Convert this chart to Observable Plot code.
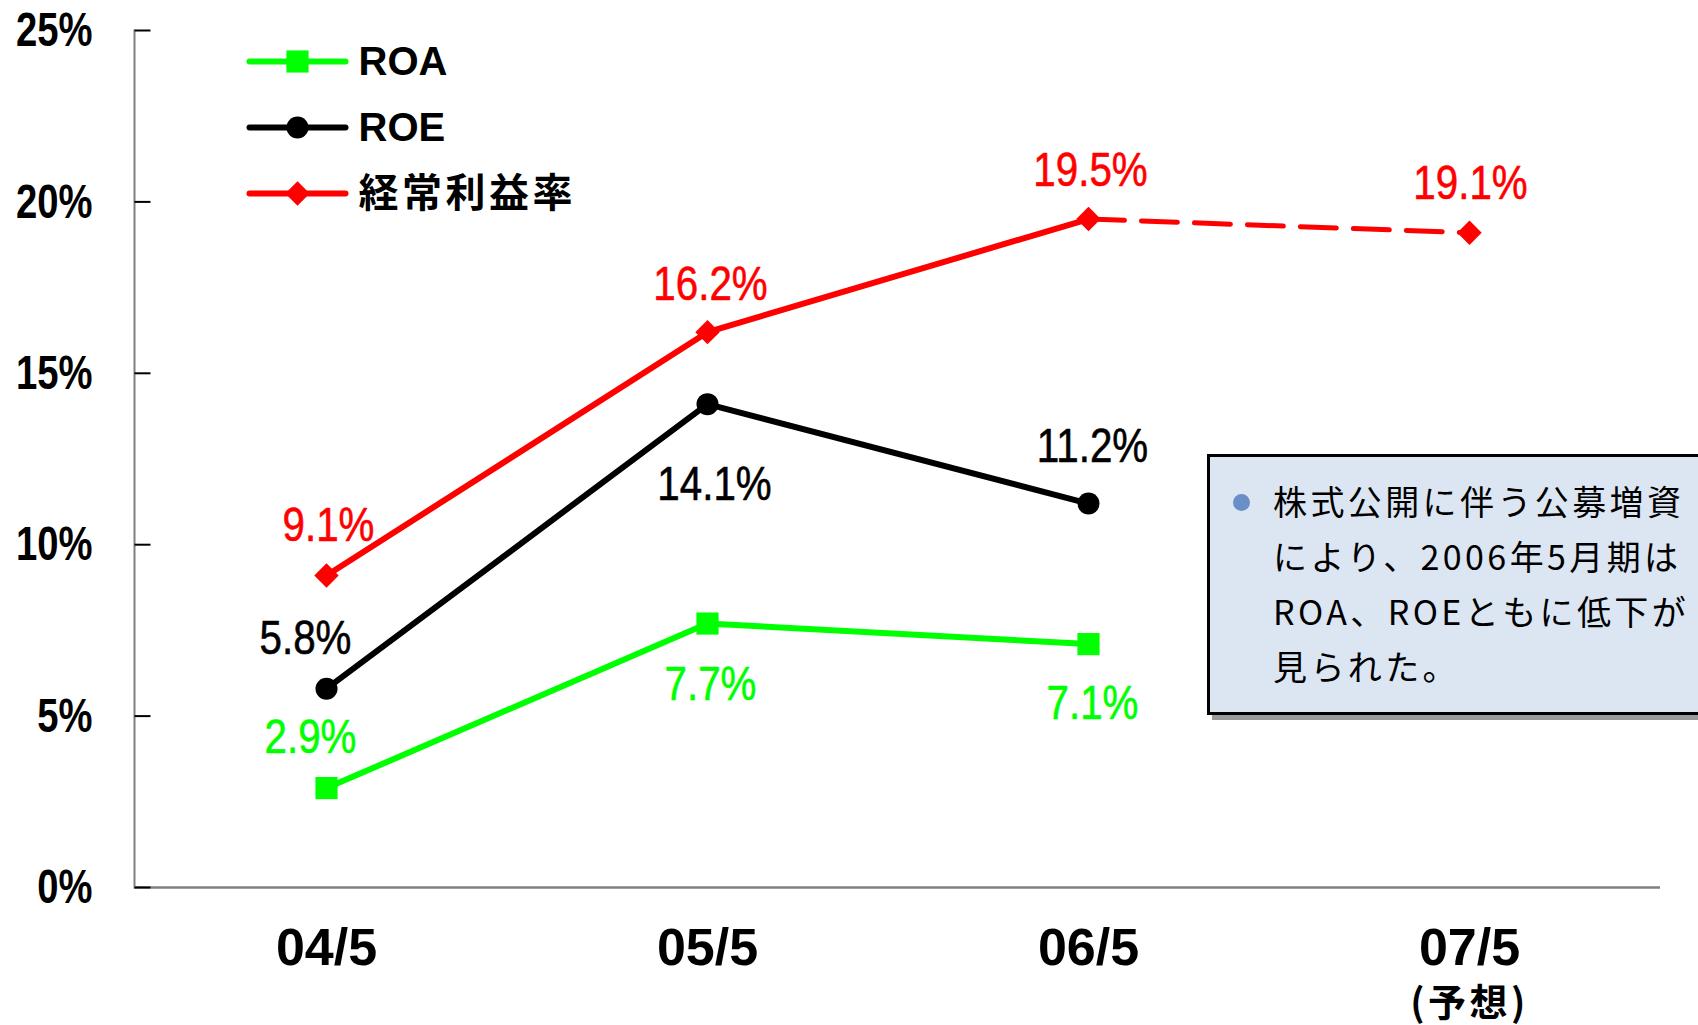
<!DOCTYPE html>
<html>
<head>
<meta charset="utf-8">
<script src="https://cdn.jsdelivr.net/npm/d3@7"></script>
<script src="https://cdn.jsdelivr.net/npm/@observablehq/plot@0.6"></script>
<style>
  html, body { margin: 0; padding: 0; background: #fff; overflow: hidden; }
  #wrap { position: relative; width: 1698px; height: 1025px; }
  #note {
    position: absolute; left: 1207px; top: 454px; width: 530px; height: 261px;
    box-sizing: border-box; border: 3px solid #000; background: #DCE6F2;
    box-shadow: 5px 5px 0 #9a9a9a;
    font-family: "Noto Sans CJK JP", sans-serif; font-size: 34px; letter-spacing: 3.4px;
    line-height: 55px; padding: 16px 0 0 63px; color: #000; white-space: nowrap;
  }
  #note .bullet {
    position: absolute; left: 23px; top: 37px; width: 17px; height: 17px;
    border-radius: 50%; background: #6A8FC7;
  }
</style>
</head>
<body>
<div id="wrap"></div>
<script>
// ---- data ----
const categories = ["04/5", "05/5", "06/5", "07/5"];
const subLabels = ["", "", "", "(予想)"];
const seriesNames = ["ROA", "ROE", "経常利益率"];
const roaValues = [2.9, 7.7, 7.1, null];
const roeValues = [5.8, 14.1, 11.2, null];
const marginValues = [9.1, 16.2, 19.5, 19.1];
const forecastCategory = "07/5";
const yTicks = [0, 5, 10, 15, 20, 25];
const noteLines = ["株式公開に伴う公募増資", "により、2006年5月期は", "ROA、ROEともに低下が", "見られた。"];

// ---- styles ----
const seriesValues = { "ROA": roaValues, "ROE": roeValues, "経常利益率": marginValues };
const styles = {
  "ROA": { color: "#00FF00", symbol: "square", r: 12.5, offsets: [[-16, -50], [3, 61], [4, 60]] },
  "ROE": { color: "#000000", symbol: "circle", r: 11, offsets: [[-21, -50], [7, 80], [4, -57]] },
  "経常利益率": { color: "#FF0000", symbol: "diamond2", r: 11, offsets: [[2, -50], [3, -48], [2, -48], [1, -49]] }
};
const sans = "'Liberation Sans', Arial, 'Noto Sans CJK JP', sans-serif";

const rows = [];
for (const s of seriesNames) {
  seriesValues[s].forEach((v, i) => {
    if (v != null) rows.push({ series: s, category: categories[i], value: v, forecast: categories[i] === forecastCategory });
  });
}

const marks = [];
marks.push(Plot.frame({ anchor: "left", stroke: "#808080", strokeWidth: 2 }));
marks.push(Plot.ruleY([0], { stroke: "#808080", strokeWidth: 2.5 }));
// inward ticks
const tickSymbol = { draw(ctx) { ctx.moveTo(0, 0); ctx.lineTo(16, 0); } };
marks.push(Plot.dot(yTicks, { y: d => d, frameAnchor: "left", symbol: tickSymbol, fill: "none", stroke: "#000", strokeWidth: 2 }));
marks.push(Plot.axisY({ ticks: yTicks, tickFormat: d => d + "%", tickSize: 0, tickPadding: 42, label: null,
  fontSize: 49, fontWeight: "bold", fontFamily: sans, fill: "#000" }));
// x labels
marks.push(Plot.text(categories, { x: d => d, frameAnchor: "bottom", dy: 61, lineAnchor: "middle",
  fontSize: 52, fontWeight: "bold", fontFamily: sans, fill: "#000" }));
marks.push(Plot.text(categories, { x: d => d, text: (d, i) => subLabels[i], frameAnchor: "bottom", dy: 116, lineAnchor: "middle",
  fontSize: 38, fontWeight: "bold", fontFamily: "'Noto Sans CJK JP', sans-serif", fill: "#000" }));

for (const s of seriesNames) {
  const st = styles[s];
  const data = rows.filter(d => d.series === s);
  marks.push(Plot.line(data.filter(d => !d.forecast), { x: "category", y: "value", stroke: st.color, strokeWidth: 6 }));
  const fc = data.filter(d => d.forecast);
  if (fc.length) {
    const prev = data[data.length - 1 - fc.length];
    marks.push(Plot.line([prev, ...fc], { x: "category", y: "value", stroke: st.color, strokeWidth: 5, strokeDasharray: "36,17" }));
  }
  marks.push(Plot.dot(data, { x: "category", y: "value", symbol: st.symbol, r: st.r, fill: st.color, stroke: "none" }));
  data.forEach((d, i) => {
    const [dx, dy] = st.offsets[i];
    marks.push(Plot.text([d], { x: "category", y: "value", text: d => d.value.toFixed(1) + "%", dx, dy,
      lineAnchor: "middle", fontSize: 48, fontFamily: sans, fill: st.color, stroke: st.color, strokeWidth: 0.6 }));
  });
}

// legend
const lineSymbol = { draw(ctx) { ctx.moveTo(-48, 0); ctx.lineTo(48, 0); } };
seriesNames.forEach((s, i) => {
  const st = styles[s];
  const dy = 31 + 66 * i;
  marks.push(Plot.dot([s], { frameAnchor: "top-left", dx: 163, dy, symbol: lineSymbol, fill: "none", stroke: st.color, strokeWidth: 6, strokeLinecap: "round" }));
  marks.push(Plot.dot([s], { frameAnchor: "top-left", dx: 163, dy, symbol: st.symbol, r: st.r, fill: st.color, stroke: "none" }));
  marks.push(Plot.text([s], { frameAnchor: "top-left", dx: 224, dy: dy + 1, text: d => d, textAnchor: "start", lineAnchor: "middle",
    fontSize: 40, fontWeight: "bold", fontFamily: sans, fill: "#000" }));
});

const chart = Plot.plot({
  width: 1698,
  height: 1025,
  marginLeft: 134,
  marginRight: 38,
  marginTop: 30,
  marginBottom: 138,
  x: { type: "point", domain: categories, padding: 0.5, axis: null },
  y: { domain: [0, 25], axis: null },
  style: { background: "#fff", overflow: "visible" },
  marks
});

const wrap = document.getElementById("wrap");
wrap.appendChild(chart);

// condense digits horizontally to mimic the narrow gothic face
d3.select(chart).selectAll("text").each(function () {
  const el = d3.select(this);
  const t = el.text();
  let factor = null;
  if (/^\d+%$/.test(t)) factor = 0.78;
  else if (/^\d+\.\d%$/.test(t)) factor = 0.84;
  else if (/[\u3000-\u9fff]/.test(t)) el.attr("letter-spacing", "3.5px");
  if (factor) {
    const w = this.getComputedTextLength();
    el.attr("textLength", (w * factor).toFixed(1)).attr("lengthAdjust", "spacingAndGlyphs");
  }
});

const note = document.createElement("div");
note.id = "note";
note.innerHTML = '<span class="bullet"></span>' + noteLines.join("<br>");
wrap.appendChild(note);
</script>
</body>
</html>
